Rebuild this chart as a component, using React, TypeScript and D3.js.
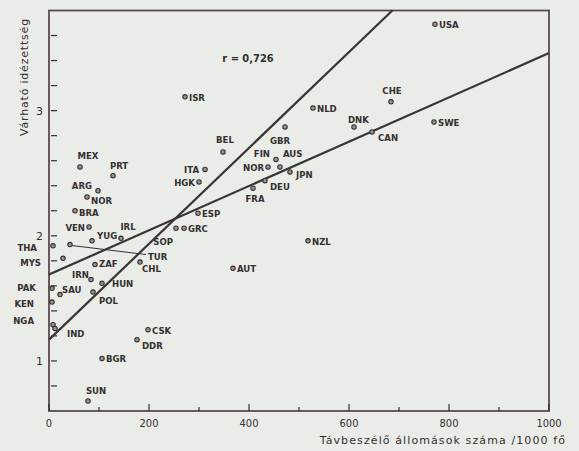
import React from "react";
import * as d3 from "d3";

const W = 579;
const H = 451;

// Country codes, telephone stations per 1000 people, expected value
const codes = [
  "USA", "CHE", "SWE", "CAN", "DNK", "NLD", "GBR", "FIN", "AUS", "NOR",
  "JPN", "DEU", "FRA", "BEL", "ISR", "ITA", "HGK", "ESP", "GRC", "SOP",
  "TUR", "THA", "MYS", "VEN", "YUG", "IRL", "ZAF", "CHL", "IRN", "SAU",
  "PAK", "KEN", "NGA", "IND", "HUN", "POL", "CSK", "DDR", "BGR", "SUN",
  "AUT", "NZL", "MEX", "PRT", "ARG", "NOR", "BRA",
];
const phones = [
  772, 684, 770, 646, 610, 528, 472, 454, 462, 438,
  482, 432, 408, 348, 272, 312, 300, 298, 270, 254,
  42, 8, 28, 80, 86, 144, 92, 182, 84, 22,
  6, 6, 8, 12, 106, 88, 198, 176, 106, 78,
  368, 518, 62, 128, 98, 76, 52,
];
const expected = [
  3.69, 3.07, 2.91, 2.83, 2.87, 3.02, 2.87, 2.61, 2.55, 2.55,
  2.51, 2.44, 2.38, 2.67, 3.11, 2.53, 2.43, 2.18, 2.06, 2.06,
  1.93, 1.92, 1.82, 2.07, 1.96, 1.98, 1.77, 1.79, 1.65, 1.53,
  1.58, 1.47, 1.29, 1.26, 1.62, 1.55, 1.25, 1.17, 1.02, 0.68,
  1.74, 1.96, 2.55, 2.48, 2.36, 2.31, 2.20,
];

// Label placement relative to each marker: [dx, dy, anchor]
const labelPlace: [number, number, string][] = [
  [4, 4, "start"], [1, -8, "middle"], [4, 4, "start"], [6, 9, "start"], [-6, -4, "start"],
  [4, 4, "start"], [-5, 17, "middle"], [-6, -2, "end"], [3, -10, "start"], [-4, 4, "end"],
  [6, 6, "start"], [5, 9, "start"], [2, 14, "middle"], [2, -9, "middle"], [4, 4, "start"],
  [-6, 4, "end"], [-4, 4, "end"], [4, 4, "start"], [4, 4, "start"], [-3, 17, "end"],
  [78, 15, "start"], [-16, 5, "end"], [-22, 8, "end"], [-4, 4, "end"], [5, -2, "start"],
  [7, -8, "middle"], [4, 2, "start"], [2, 10, "start"], [-2, -2, "end"], [2, -2, "start"],
  [-16, 3, "end"], [-18, 5, "end"], [-19, -1, "end"], [12, 9, "start"], [10, 4, "start"],
  [6, 12, "start"], [4, 4, "start"], [5, 9, "start"], [4, 4, "start"], [8, -7, "middle"],
  [4, 4, "start"], [4, 4, "start"], [8, -8, "middle"], [6, -7, "middle"], [-6, -2, "end"],
  [4, 7, "start"], [4, 5, "start"],
];

// Two regression lines: expected = intercept + slope * phones
const lineIntercepts = [1.17, 1.69];
const lineSlopes = [0.00383, 0.00177];

const xMajorTicks = [0, 200, 400, 600, 800, 1000];
const xMinorTicks = [100, 300, 500, 700, 900];
const yLabelTicks = [1, 2, 3];
const yMinorTicks = [0.8, 1.2, 1.4, 1.6, 1.8, 2.2, 2.4, 2.6, 2.8, 3.2, 3.4, 3.6];

const xTitle = "Távbeszélő állomások száma /1000 fő";
const yTitle = "Várható idézettség";
const corrText = "r = 0,726";

const ink = "#333030";
const frame = "#5b4a4d";
const labelFont = "'DejaVu Sans Condensed', 'Liberation Sans Narrow', sans-serif";

export default function App() {
  const x = d3.scaleLinear().domain([0, 1000]).range([49, 549]);
  const y = d3.scaleLinear().domain([0.6, 3.8]).range([411, 10.5]);
  const [x0, x1] = x.domain();
  const [y0, y1] = y.domain();

  const fitLine = d3
    .line<[number, number]>()
    .x((d) => x(d[0]))
    .y((d) => y(d[1]));

  const fits = lineIntercepts.map((a, i) => {
    const b = lineSlopes[i];
    const xEnd = Math.min(x1, (y1 - a) / b);
    return fitLine([
      [x0, a + b * x0],
      [xEnd, a + b * xEnd],
    ]);
  });

  const turIdx = codes.indexOf("TUR");

  return (
    <svg
      width={W}
      height={H}
      style={{ position: "fixed", left: 0, top: 0, display: "block" }}
    >
      <rect x={0} y={0} width={W} height={H} fill="#eaece8" />

      {/* frame */}
      <rect
        x={x(x0)}
        y={y(y1)}
        width={x(x1) - x(x0)}
        height={y(y0) - y(y1)}
        fill="none"
        stroke={frame}
        strokeWidth={1.8}
      />

      {/* y ticks */}
      {yMinorTicks.concat(yLabelTicks).map((t) => (
        <line
          key={"yt" + t}
          x1={x(x0) + 2}
          x2={x(x0) + 8}
          y1={y(t)}
          y2={y(t)}
          stroke={ink}
          strokeWidth={1.2}
        />
      ))}
      {yLabelTicks.map((t) => (
        <text
          key={"yl" + t}
          x={x(x0) - 6}
          y={y(t) + 4}
          textAnchor="end"
          fontFamily="'DejaVu Sans', sans-serif"
          fontSize={11}
          fill={ink}
        >
          {t}
        </text>
      ))}

      {/* x ticks */}
      {xMajorTicks.map((t) => (
        <line
          key={"xt" + t}
          x1={x(t)}
          x2={x(t)}
          y1={y(y0)}
          y2={y(y0) - 7}
          stroke={ink}
          strokeWidth={1.2}
        />
      ))}
      {xMinorTicks.map((t) => (
        <line
          key={"xm" + t}
          x1={x(t)}
          x2={x(t)}
          y1={y(y0)}
          y2={y(y0) - 4}
          stroke={ink}
          strokeWidth={1.2}
        />
      ))}
      {xMajorTicks.map((t) => (
        <text
          key={"xl" + t}
          x={x(t)}
          y={y(y0) + 16}
          textAnchor="middle"
          fontFamily="'DejaVu Sans Condensed', sans-serif"
          fontSize={11}
          fill={ink}
        >
          {t}
        </text>
      ))}

      {/* axis titles */}
      <text
        x={566}
        y={444}
        textAnchor="end"
        fontFamily="'DejaVu Sans', sans-serif"
        fontSize={11}
        letterSpacing={1.1}
        fill={ink}
      >
        {xTitle}
      </text>
      <text
        transform={`translate(28,77) rotate(-90)`}
        textAnchor="middle"
        fontFamily="'DejaVu Sans', sans-serif"
        fontSize={11}
        letterSpacing={0.8}
        fill={ink}
      >
        {yTitle}
      </text>

      <text
        x={248}
        y={62}
        textAnchor="middle"
        fontFamily={labelFont}
        fontWeight="bold"
        fontSize={11}
        fill={ink}
      >
        {corrText}
      </text>

      {/* regression lines */}
      {fits.map((d, i) => (
        <path key={"fit" + i} d={d || ""} fill="none" stroke="#3a3435" strokeWidth={2.2} />
      ))}

      {/* leader for TUR */}
      <line
        x1={x(phones[turIdx]) + 2}
        y1={y(expected[turIdx]) + 1}
        x2={x(phones[turIdx]) + labelPlace[turIdx][0] - 2}
        y2={y(expected[turIdx]) + labelPlace[turIdx][1] - 5}
        stroke={ink}
        strokeWidth={1}
      />

      {/* countries */}
      {codes.map((c, i) => {
        const cx = x(phones[i]);
        const cy = y(expected[i]);
        const [dx, dy, anchor] = labelPlace[i];
        return (
          <g key={c + i}>
            <circle cx={cx} cy={cy} r={2.2} fill="#9a9696" stroke={ink} strokeWidth={1.1} />
            <text
              x={cx + dx}
              y={cy + dy}
              textAnchor={anchor as any}
              fontFamily={labelFont}
              fontWeight="bold"
              fontSize={9.5}
              fill={ink}
            >
              {c}
            </text>
          </g>
        );
      })}
    </svg>
  );
}
